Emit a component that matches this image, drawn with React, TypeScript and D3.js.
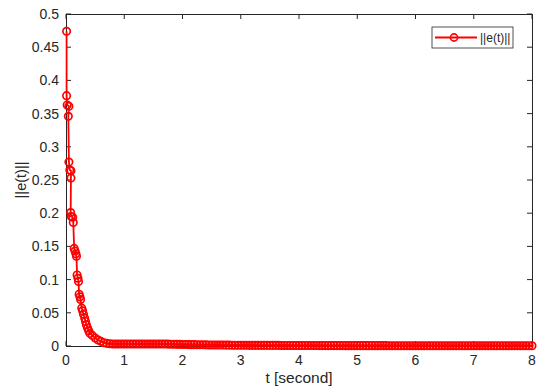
import { useEffect, useRef } from 'react'
import * as d3 from 'd3'

// early, sparsely sampled part of ||e(t)|| : [t, value]
const earlyPoints: [number, number][] = [
  [0.01, 0.474], [0.01, 0.377], [0.02, 0.363], [0.05, 0.361], [0.04, 0.346],
  [0.05, 0.277], [0.065, 0.265], [0.085, 0.264], [0.085, 0.253],
  [0.08, 0.201], [0.09, 0.195], [0.115, 0.194], [0.125, 0.186],
  [0.14, 0.147], [0.155, 0.143], [0.17, 0.139], [0.18, 0.135],
  [0.19, 0.107], [0.205, 0.102], [0.215, 0.097],
  [0.225, 0.078], [0.24, 0.074], [0.25, 0.07],
  [0.27, 0.057], [0.285, 0.053], [0.3, 0.048],
  [0.32, 0.042], [0.335, 0.037], [0.35, 0.032], [0.37, 0.027], [0.39, 0.023], [0.41, 0.019],
]

// dense tail, sampled every 0.05 s starting at t = 0.45
const tailStart = 0.45
const tailStep = 0.05
const tailValues = [
  0.016, 0.012, 0.009, 0.007, 0.005, 0.004, 0.0035, 0.003, 0.003, 0.003,
  0.003, 0.003, 0.003, 0.003, 0.003, 0.003, 0.003, 0.003, 0.003, 0.003,
  0.003, 0.003, 0.003, 0.003, 0.003, 0.003, 0.0028, 0.0027, 0.0026, 0.0025,
  0.0024, 0.0023, 0.0022, 0.0021, 0.002, 0.002, 0.0019, 0.0018, 0.0018, 0.0017,
  0.0016, 0.0016, 0.0015, 0.0015, 0.0014, 0.0014, 0.0013, 0.0013, 0.0012, 0.0012,
  0.0012, 0.0011, 0.0011, 0.0011, 0.001, 0.001, 0.001, 0.001, 0.001, 0.001,
  0.0009, 0.0009, 0.0009, 0.0009, 0.0009, 0.0008, 0.0008, 0.0008, 0.0008, 0.0008,
  0.0008, 0.0007, 0.0007, 0.0007, 0.0007, 0.0007, 0.0007, 0.0007, 0.0006, 0.0006,
  0.0006, 0.0006, 0.0006, 0.0006, 0.0006, 0.0006, 0.0006, 0.0005, 0.0005, 0.0005,
  0.0005, 0.0005, 0.0005, 0.0005, 0.0005, 0.0005, 0.0005, 0.0005, 0.0005, 0.0005,
  0.0005, 0.0005, 0.0004, 0.0004, 0.0004, 0.0004, 0.0004, 0.0004, 0.0004, 0.0004,
  0.0004, 0.0004, 0.0004, 0.0004, 0.0004, 0.0004, 0.0004, 0.0004, 0.0004, 0.0004,
  0.0004, 0.0004, 0.0004, 0.0004, 0.0004, 0.0004, 0.0004, 0.0004, 0.0004, 0.0004,
  0.0004, 0.0004, 0.0004, 0.0004, 0.0004, 0.0004, 0.0004, 0.0004, 0.0004, 0.0004,
  0.0004, 0.0004, 0.0004, 0.0004, 0.0004, 0.0004, 0.0004, 0.0004, 0.0004, 0.0004,
  0.0004, 0.0004, 0.0004, 0.0004,
]

const xTicks = [0, 1, 2, 3, 4, 5, 6, 7, 8]
const yTicks = [0, 0.05, 0.1, 0.15, 0.2, 0.25, 0.3, 0.35, 0.4, 0.45, 0.5]

const seriesName = '||e(t)||'
const xLabel = 't [second]'
const yLabel = '||e(t)||'

export default function App() {
  const svgRef = useRef<SVGSVGElement>(null)

  useEffect(() => {
    if (!svgRef.current) return
    const svg = d3.select(svgRef.current)
    svg.selectAll('*').remove()

    const W = 552, H = 389
    const m = { left: 66, right: 20, top: 14, bottom: 43 }
    const font = 'Liberation Sans, Arial, sans-serif'
    const axisColor = '#262626'
    const red = '#ff0000'

    const x = d3.scaleLinear().domain([0, 8]).range([m.left, W - m.right])
    const y = d3.scaleLinear().domain([0, 0.5]).range([H - m.bottom, m.top])

    const tail: [number, number][] = tailValues.map((v, i) => [tailStart + i * tailStep, v])
    const data = earlyPoints.concat(tail).filter(d => d[0] <= 8.0001)

    svg.attr('width', W).attr('height', H)
    svg.append('rect').attr('width', W).attr('height', H).attr('fill', '#fff')

    const x0 = x(0), x1 = x(8), y0 = y(0), y1 = y(0.5)
    const tl = 5

    // axis box
    const ax = svg.append('g').attr('stroke', axisColor).attr('stroke-width', 1).attr('fill', 'none')
    ax.append('rect').attr('x', x0).attr('y', y1).attr('width', x1 - x0).attr('height', y0 - y1)
      .attr('shape-rendering', 'crispEdges')

    // ticks (inward, both sides)
    xTicks.forEach(t => {
      ax.append('line').attr('x1', x(t)).attr('x2', x(t)).attr('y1', y0).attr('y2', y0 - tl)
      ax.append('line').attr('x1', x(t)).attr('x2', x(t)).attr('y1', y1).attr('y2', y1 + tl)
    })
    yTicks.forEach(t => {
      ax.append('line').attr('x1', x0).attr('x2', x0 + tl).attr('y1', y(t)).attr('y2', y(t))
      ax.append('line').attr('x1', x1).attr('x2', x1 - tl).attr('y1', y(t)).attr('y2', y(t))
    })

    svg.append('g').selectAll('text').data(xTicks).enter().append('text')
      .attr('x', d => x(d)).attr('y', y0 + 19)
      .attr('text-anchor', 'middle').attr('font-family', font).attr('font-size', 14)
      .attr('fill', axisColor).text(d => String(d))

    svg.append('g').selectAll('text').data(yTicks).enter().append('text')
      .attr('x', x0 - 7).attr('y', d => y(d) + 5)
      .attr('text-anchor', 'end').attr('font-family', font).attr('font-size', 14)
      .attr('fill', axisColor).text(d => String(d))

    svg.append('text').attr('x', (x0 + x1) / 2).attr('y', H - 6)
      .attr('text-anchor', 'middle').attr('font-family', font).attr('font-size', 15.5)
      .attr('fill', axisColor).text(xLabel)

    svg.append('text')
      .attr('transform', `translate(26,${(y0 + y1) / 2}) rotate(-90)`)
      .attr('text-anchor', 'middle').attr('font-family', font).attr('font-size', 14.5)
      .attr('fill', axisColor).text(yLabel)

    // series
    const line = d3.line<[number, number]>().x(d => x(d[0])).y(d => y(d[1]))
    svg.append('path').datum(data).attr('d', line)
      .attr('fill', 'none').attr('stroke', red).attr('stroke-width', 1.8)

    svg.append('g').selectAll('circle').data(data).enter().append('circle')
      .attr('cx', d => x(d[0])).attr('cy', d => y(d[1])).attr('r', 3.7)
      .attr('fill', 'none').attr('stroke', red).attr('stroke-width', 1.7)

    // legend
    const lg = svg.append('g').attr('transform', 'translate(432,27)')
    lg.append('rect').attr('width', 81).attr('height', 21)
      .attr('fill', '#fff').attr('stroke', axisColor).attr('stroke-width', 0.8)
    lg.append('line').attr('x1', 3).attr('x2', 45).attr('y1', 10.5).attr('y2', 10.5)
      .attr('stroke', red).attr('stroke-width', 1.8)
    lg.append('circle').attr('cx', 22).attr('cy', 10.5).attr('r', 3.6)
      .attr('fill', 'none').attr('stroke', red).attr('stroke-width', 1.6)
    lg.append('text').attr('x', 48).attr('y', 15).attr('font-family', font).attr('font-size', 12)
      .attr('fill', axisColor).text(seriesName)
  }, [])

  return (
    <div style={{ position: 'absolute', left: 0, top: 0 }}>
      <svg ref={svgRef} style={{ display: 'block' }} />
    </div>
  )
}
